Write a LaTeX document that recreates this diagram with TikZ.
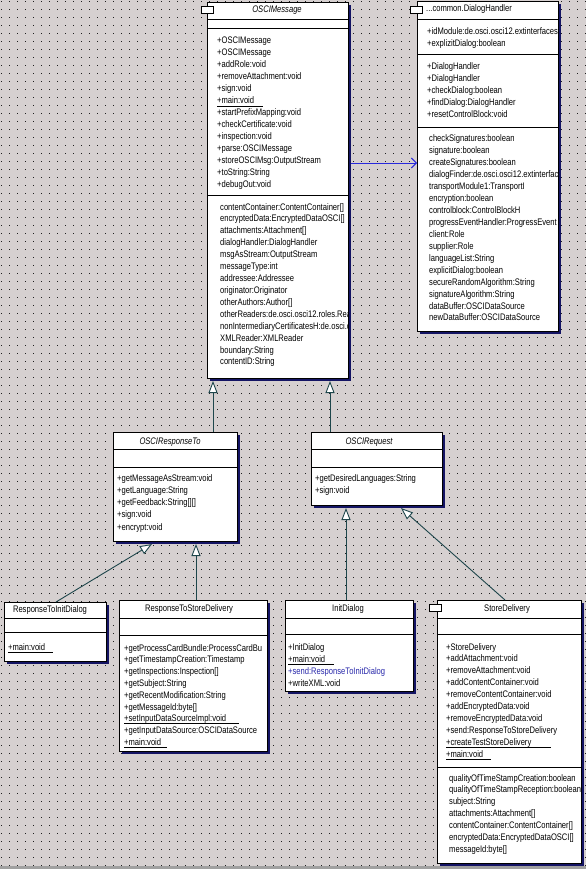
\documentclass[tikz,border=0pt]{standalone}
\usepackage{fontspec}
\setmainfont{Liberation Sans}[FakeStretch=0.8]
\usetikzlibrary{arrows.meta}
\definecolor{bg}{RGB}{214,208,208}
\definecolor{shadowc}{RGB}{20,20,100}
\definecolor{conn}{RGB}{30,70,75}
\definecolor{depc}{RGB}{40,40,220}
\definecolor{sendc}{RGB}{40,40,170}
\definecolor{dotc}{RGB}{30,30,30}
\definecolor{bandc}{RGB}{160,160,160}
\tikzset{
 clsbox/.style={draw=black, fill=white, line width=0.9pt, inner sep=0pt, outer sep=0pt},
 tabbox/.style={draw=black, fill=white, line width=0.9pt, inner sep=0pt, minimum width=12pt, minimum height=7pt},
 txt/.style={inner sep=0pt, anchor=west, font=\fontsize{9.5}{11}\selectfont, text height=7pt, text depth=1pt},
 hdr/.style={txt, anchor=center},
 hdrw/.style={txt},
 sepl/.style={draw=black, line width=0.9pt},
 ul/.style={draw=black, line width=0.8pt},
 gen/.style={draw=conn, line width=0.9pt, -{Triangle[length=12pt,width=9pt,fill=white]}},
 depend/.style={draw=depc, line width=0.9pt, -{Straight Barb[length=5pt,width=10pt]}}
}
\newcommand\umlclass[5]{%
  \fill[shadowc] ({#2+3},{#3+3}) rectangle ({#4+3},{#5+3});
  \path (#2,#3) coordinate (#1-nw) (#4,#5) coordinate (#1-se);
  \node[clsbox, minimum width={#4pt-#2pt}, minimum height={#5pt-#3pt}] (#1) at ({(#2+#4)/2},{(#3+#5)/2}) {};
}
\newcommand\umlsep[2]{\draw[sepl] (#1.west |- 0,#2) -- (#1.east |- 0,#2);}
\newcommand\rowlist[5]{\foreach \t [count=\i] in {#5}{\node[txt] (#1\i) at (#2,{#3+(\i-1)*#4}) {\t};}}
\begin{document}
\begin{tikzpicture}[x=1pt,y=-1pt]
\useasboundingbox (0,0) rectangle (586,869);
\fill[bg] (0,0) rectangle (586,869);
\foreach \yy in {1.5,9.5,...,866} \draw[dotc,line width=1pt,dash pattern=on 1pt off 7pt] (1,\yy) -- (586,\yy);
\fill[bandc] (0,866) rectangle (586,869);

% ---------- OSCIMessage ----------
\umlclass{om}{207}{2}{348}{378}
\umlsep{om}{19}\umlsep{om}{28}\umlsep{om}{195}
\begin{scope}
\clip (om-nw) rectangle (om-se);
\node[hdr] (omh) at (277,10) {\itshape OSCIMessage};
\rowlist{omm}{217}{41}{11.92}{{+OSCIMessage},{+OSCIMessage},{+addRole:void},{+removeAttachment:void},{+sign:void},{+main:void},{+startPrefixMapping:void},{+checkCertificate:void},{+inspection:void},{+parse:OSCIMessage},{+storeOSCIMsg:OutputStream},{+toString:String},{+debugOut:void}}
\rowlist{oma}{220}{207}{11.92}{{contentContainer:ContentContainer[]},{encryptedData:EncryptedDataOSCI[]},{attachments:Attachment[]},{dialogHandler:DialogHandler},{msgAsStream:OutputStream},{messageType:int},{addressee:Addressee},{originator:Originator},{otherAuthors:Author[]},{otherReaders:de.osci.osci12.roles.Rea},{nonIntermediaryCertificatesH:de.osci.o},{XMLReader:XMLReader},{boundary:String},{contentID:String}}
\end{scope}
\draw[ul] (217,106) -- (263,106);
\node[tabbox] (omtab) at (207,10) {};

% ---------- DialogHandler ----------
\umlclass{dh}{417}{1}{558}{331}
\umlsep{dh}{19}\umlsep{dh}{54}\umlsep{dh}{127}
\begin{scope}
\clip (dh-nw) rectangle (dh-se);
\node[hdrw] (dhh) at (426,9) {...common.DialogHandler};
\rowlist{dhp}{427}{32}{11.5}{{+idModule:de.osci.osci12.extinterfaces},{+explizitDialog:boolean}}
\rowlist{dhm}{427}{67}{12}{{+DialogHandler},{+DialogHandler},{+checkDialog:boolean},{+findDialog:DialogHandler},{+resetControlBlock:void}}
\rowlist{dha}{429}{139}{11.93}{{checkSignatures:boolean},{signature:boolean},{createSignatures:boolean},{dialogFinder:de.osci.osci12.extinterfac},{transportModule1:TransportI},{encryption:boolean},{controlblock:ControlBlockH},{progressEventHandler:ProgressEvent},{client:Role},{supplier:Role},{languageList:String},{explicitDialog:boolean},{secureRandomAlgorithm:String},{signatureAlgorithm:String},{dataBuffer:OSCIDataSource},{newDataBuffer:OSCIDataSource}}
\end{scope}
\node[tabbox] (dhtab) at (416.5,10) {};

% ---------- OSCIResponseTo ----------
\umlclass{ort}{113}{432}{237}{541}
\umlsep{ort}{449}\umlsep{ort}{467}
\begin{scope}
\clip (ort-nw) rectangle (ort-se);
\node[hdr] (orth) at (170,441) {\itshape OSCIResponseTo};
\rowlist{ortm}{117}{478}{12.25}{{+getMessageAsStream:void},{+getLanguage:String},{+getFeedback:String[][]},{+sign:void},{+encrypt:void}}
\end{scope}

% ---------- OSCIRequest ----------
\umlclass{orq}{311}{432}{442}{505}
\umlsep{orq}{449}\umlsep{orq}{467}
\begin{scope}
\clip (orq-nw) rectangle (orq-se);
\node[hdr] (orqh) at (369,441) {\itshape OSCIRequest};
\rowlist{orqm}{315}{478}{12.5}{{+getDesiredLanguages:String},{+sign:void}}
\end{scope}

% ---------- ResponseToInitDialog ----------
\umlclass{rtid}{4}{602}{106}{661}
\umlsep{rtid}{618}\umlsep{rtid}{632}
\begin{scope}
\clip (rtid-nw) rectangle (rtid-se);
\node[hdr] (rtidh) at (50,609) {ResponseToInitDialog};
\rowlist{rtidm}{8}{647}{12}{{+main:void}}
\end{scope}
\draw[ul] (8,652) -- (53,652);

% ---------- ResponseToStoreDelivery ----------
\umlclass{rtsd}{119}{600}{267}{751}
\umlsep{rtsd}{618}\umlsep{rtsd}{635}
\begin{scope}
\clip (rtsd-nw) rectangle (rtsd-se);
\node[hdr] (rtsdh) at (189,608) {ResponseToStoreDelivery};
\rowlist{rtsdm}{124}{648}{11.8}{{+getProcessCardBundle:ProcessCardBu},{+getTimestampCreation:Timestamp},{+getInspections:Inspection[]},{+getSubject:String},{+getRecentModification:String},{+getMessageId:byte[]},{+setInputDataSourceImpl:void},{+getInputDataSource:OSCIDataSource},{+main:void}}
\end{scope}
\draw[ul] (124,723) -- (239,723);
\draw[ul] (124,747) -- (167,747);

% ---------- InitDialog ----------
\umlclass{idg}{285}{600}{413}{691}
\umlsep{idg}{618}\umlsep{idg}{634}
\begin{scope}
\clip (idg-nw) rectangle (idg-se);
\node[hdr] (idgh) at (348,608) {InitDialog};
\rowlist{idgm}{288}{647}{12}{{+InitDialog},{+main:void},{\color{sendc}+send:ResponseToInitDialog},{+writeXML:void}}
\end{scope}
\draw[ul] (288,664) -- (334,664);

% ---------- StoreDelivery ----------
\umlclass{sd}{437}{600}{581}{863}
\umlsep{sd}{618}\umlsep{sd}{634}\umlsep{sd}{767}
\begin{scope}
\clip (sd-nw) rectangle (sd-se);
\node[hdr] (sdh) at (507,608) {StoreDelivery};
\rowlist{sdm}{446}{647}{11.9}{{+StoreDelivery},{+addAttachment:void},{+removeAttachment:void},{+addContentContainer:void},{+removeContentContainer:void},{+addEncryptedData:void},{+removeEncryptedData:void},{+send:ResponseToStoreDelivery},{+createTestStoreDelivery},{+main:void}}
\rowlist{sda}{449}{778}{11.9}{{qualityOfTimeStampCreation:boolean},{qualityOfTimeStampReception:boolean},{subject:String},{attachments:Attachment[]},{contentContainer:ContentContainer[]},{encryptedData:EncryptedDataOSCI[]},{messageId:byte[]}}
\end{scope}
\draw[ul] (446,747) -- (551,747);
\draw[ul] (446,759) -- (491,759);
\node[tabbox] (sdtab) at (435.5,607.5) {};

% ---------- connectors ----------
\draw[depend] ([xshift=3pt]om.east |- 0,163) -- (dh.west |- 0,163);
\draw[gen] (ort.north -| 213,0) -- ([yshift=-3pt]om.south -| 213,0);
\draw[gen] (orq.north -| 330,0) -- ([yshift=-3pt]om.south -| 330,0);
\draw[gen] (rtid.north -| 56,0) -- ([yshift=-3pt]ort.south -| 152,0);
\draw[gen] (rtsd.north -| 196,0) -- ([yshift=-3pt]ort.south -| 196,0);
\draw[gen] (idg.north -| 346,0) -- ([yshift=-3pt]orq.south -| 346,0);
\draw[gen] (sd.north -| 505,0) -- ([yshift=-3pt]orq.south -| 401,0);
\end{tikzpicture}
\end{document}
